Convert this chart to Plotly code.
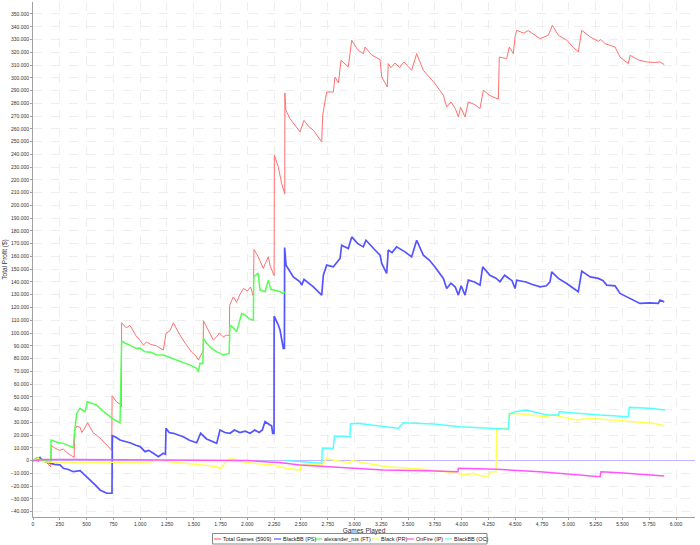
import plotly.graph_objects as go

# ---- data (games played, total profit in $) ----
total_games = [0, 30, 50, 70, 100, 130, 166, 170, 200, 250, 283, 320, 376, 384, 390, 410, 440, 455, 480, 510,
               560, 620, 680, 718, 735, 738, 745, 780, 818, 824, 827, 840, 870, 905, 960, 1000, 1030, 1060,
               1100, 1150, 1216, 1241, 1280, 1310, 1360, 1420, 1480, 1520, 1543, 1575, 1588, 1590, 1630, 1683,
               1714, 1739, 1775, 1807, 1832, 1835, 1869, 1900, 1930, 1963, 2000, 2030, 2056, 2062, 2100, 2130,
               2149, 2175, 2196, 2215, 2242, 2250, 2252, 2289, 2320, 2345, 2349, 2350, 2360, 2398, 2450, 2491,
               2529, 2570, 2616, 2650, 2694, 2703, 2740, 2802, 2818, 2850, 2874, 2942, 2974, 3030, 3082, 3098,
               3160, 3238, 3254, 3306, 3315, 3340, 3378, 3420, 3462, 3533, 3580, 3642, 3700, 3751, 3829, 3860,
               3900, 3940, 3969, 3990, 4031, 4062, 4120, 4171, 4202, 4258, 4342, 4351, 4420, 4444, 4482, 4498,
               4513, 4580, 4620, 4731, 4808, 4846, 4902, 4980, 5040, 5088, 5120, 5200, 5275, 5300, 5337, 5431,
               5477, 5555, 5571, 5650, 5726, 5800, 5850, 5890]
total_profit = [0, 1500, -1000, 2000, 500, -2000, -4800, 12000, 10000, 8000, 9000, 6000, 3000, 2500, 24000, 27000,
                26000, 22000, 25000, 29700, 22000, 18000, 13000, 9600, 8000, 50800, 50000, 46000, 44000, 42000,
                108000, 107000, 104000, 106000, 98000, 94000, 90500, 93000, 91000, 90000, 86600, 99700, 102000,
                108000, 100000, 92000, 85000, 82000, 78800, 84000, 86000, 109600, 103000, 94400, 97000, 100000,
                97000, 98400, 98000, 121800, 128300, 124000, 130000, 134900, 133000, 136000, 128900, 165500,
                160000, 155000, 150600, 156000, 159700, 152000, 145300, 145000, 239300, 230100, 217100, 209300,
                209000, 288100, 274500, 268000, 262000, 257600, 266700, 262000, 258900, 255000, 249700, 270600,
                288900, 288900, 300600, 296000, 313700, 308500, 329400, 322000, 318900, 324100, 318000, 314200,
                300600, 292800, 311100, 308000, 311600, 308000, 312400, 305900, 318900, 305900, 300000, 295500,
                286300, 277100, 281000, 276000, 269300, 277000, 269300, 281100, 279000, 275900, 290200, 286300,
                283200, 316300, 315000, 324100, 318900, 332000, 337200, 335000, 337000, 330700, 333300, 341100,
                333300, 329400, 324000, 320300, 337200, 332000, 328600, 330000, 326800, 324100, 316300, 311100,
                317600, 314000, 312400, 312000, 312400, 310300]

ps_games = [0, 40, 65, 80, 120, 159, 200, 252, 283, 330, 376, 439, 480, 532, 580, 625, 688, 737, 740, 770, 812,
            860, 905, 960, 1000, 1045, 1080, 1123, 1170, 1216, 1236, 1241, 1270, 1310, 1360, 1402, 1460, 1527,
            1564, 1620, 1714, 1745, 1790, 1838, 1880, 1930, 1980, 2025, 2070, 2110, 2140, 2165, 2227, 2236, 2249,
            2250, 2289, 2305, 2336, 2346, 2348, 2361, 2429, 2491, 2507, 2529, 2616, 2694, 2709, 2740, 2802, 2865,
            2880, 2942, 2974, 3030, 3082, 3107, 3180, 3238, 3254, 3300, 3315, 3350, 3393, 3471, 3533, 3580, 3642,
            3700, 3751, 3829, 3860, 3900, 3940, 3969, 3995, 4031, 4062, 4120, 4171, 4196, 4264, 4320, 4357, 4400,
            4470, 4498, 4513, 4600, 4660, 4731, 4790, 4824, 4840, 4902, 4980, 5040, 5088, 5120, 5200, 5275, 5320,
            5353, 5431, 5477, 5571, 5664, 5757, 5835, 5850, 5890]
ps_profit = [0, 1000, 2500, 0, -1000, -2100, -3000, -3400, -6000, -7000, -8700, -7900, -11000, -15200, -19000,
             -23000, -25600, -25600, 19500, 18500, 16100, 15000, 14000, 12000, 11000, 7000, 8000, 5700, 3100, 5700,
             5000, 25300, 22000, 21400, 20000, 18700, 16000, 14000, 21400, 17000, 13500, 24000, 22000, 21400, 24000,
             22000, 23000, 21400, 24000, 22000, 24000, 30500, 27100, 21400, 21400, 113200, 106200, 102300, 87900,
             88000, 167000, 153200, 144000, 140100, 137500, 142000, 136200, 129700, 145300, 153200, 151800, 158400,
             168800, 166200, 175300, 170000, 167500, 172700, 166000, 161000, 154500, 146700, 165000, 163000, 167500,
             163600, 159700, 172700, 161000, 157000, 151800, 142800, 134900, 139000, 136000, 129700, 137000, 129700,
             141400, 140000, 137500, 151800, 145300, 143000, 140100, 145300, 141000, 134900, 141400, 140000, 138000,
             136200, 137000, 140100, 147900, 142800, 138800, 135000, 132300, 148500, 144000, 142800, 141000, 137500,
             137000, 131000, 127100, 123200, 123600, 123200, 125800, 124400]

ft_games = [0, 34, 60, 96, 130, 159, 166, 168, 200, 240, 283, 320, 345, 376, 385, 390, 407, 438, 485, 507, 540,
            594, 650, 718, 760, 812, 827, 860, 905, 960, 1000, 1045, 1100, 1150, 1216, 1270, 1341, 1400, 1460, 1527,
            1543, 1558, 1585, 1590, 1620, 1667, 1720, 1776, 1830, 1838, 1870, 1900, 1947, 1980, 2020, 2056, 2060,
            2100, 2118, 2165, 2196, 2220, 2260, 2305, 2330, 2351]
ft_profit = [0, 2300, 1000, 500, -500, -800, -1000, 16100, 15000, 14000, 13500, 12000, 10900, 10100, 20000, 25000,
             37000, 41000, 38300, 46100, 45000, 43500, 39000, 34400, 32000, 29700, 93900, 92000, 90500, 88000, 88000,
             85300, 85000, 83000, 82700, 81000, 78800, 77000, 75000, 72300, 69600, 76200, 76000, 95800, 92000, 87900,
             85000, 82700, 84000, 106200, 104000, 100900, 115300, 114000, 111000, 110000, 144000, 147000, 133600,
             132300, 141400, 134000, 133500, 132300, 131000, 132000]

pr_games = [0, 50, 80, 120, 200, 400, 800, 1000, 1100, 1140, 1300, 1500, 1650, 1714, 1745, 1790, 1823, 1850, 1950,
            2100, 2242, 2367, 2491, 2500, 2700, 2740, 2802, 2958, 2974, 3114, 3300, 3518, 3735, 3953, 4047, 4109,
            4187, 4249, 4264, 4320, 4327, 4435, 4445, 4513, 4638, 4778, 4855, 5073, 5197, 5384, 5601, 5788, 5890]
pr_profit = [0, 1500, -500, -1000, -1200, -1300, -1500, -1200, -1000, 300, -1000, -2500, -4000, -4800, -6000, -2100,
             1000, 1800, -1000, -2500, -3400, -6000, -7400, -3000, -3400, 1800, 500, -2100, 0, -2100, -4800, -6000,
             -7400, -10000, -11300, -10000, -12100, -12100, -8700, -8700, 25300, 25300, 36500, 37000, 35700, 34400,
             35700, 31800, 33100, 31800, 30500, 29200, 27300]

ip_games = [0, 50, 100, 400, 800, 1200, 1600, 2000, 2200, 2300, 2491, 2802, 3268, 3673, 3965, 3969, 4327, 4731,
            5073, 5291, 5300, 5477, 5890]
ip_profit = [0, 500, 800, 800, 600, 500, 300, 0, -1000, -1500, -3400, -4800, -7400, -7900, -8700, -6000, -6800,
             -8700, -11300, -12600, -8700, -9500, -12100]

oc_games = [2350, 2491, 2694, 2700, 2802, 2812, 2958, 2962, 3020, 3238, 3409, 3455, 3735, 3984, 4327, 4435, 4445,
            4498, 4607, 4793, 4902, 4910, 5291, 5555, 5564, 5757, 5897]
oc_profit = [0, -900, -2100, 9600, 9600, 19300, 18700, 28700, 29200, 27100, 25300, 29700, 28700, 26500, 24700,
             24600, 36500, 38300, 39600, 35700, 35700, 38300, 35700, 34400, 41700, 41000, 39600]

series_names = ["Total Games (5909)", "BlackBB (PS)", "alexander_rus (FT)", "Black (PR)", "OnFire (IP)", "BlackBB (OC)"]
x_ticks = list(range(0, 6001, 250))
y_ticks = list(range(-40000, 350001, 10000))

# ---- styling ----
colors = ["#FF7070", "#5555FF", "#55FF55", "#FFFF55", "#FF55FF", "#55FFFF"]
widths = [1, 1.7, 1.5, 1.5, 1.5, 1.5]
FONT = "Liberation Sans"

# plot area in pixels
W, H = 700, 545
PL, PR, PT, PB = 33, 695, 2, 517


def px_x(px):
    return (px - PL) / (PR - PL)


def px_y(py):
    return (PB - py) / (PB - PT)


data = [(total_games, total_profit), (ps_games, ps_profit), (ft_games, ft_profit),
        (pr_games, pr_profit), (ip_games, ip_profit), (oc_games, oc_profit)]

fig = go.Figure()
for name, (gx, gy), c, w in zip(series_names, data, colors, widths):
    fig.add_trace(go.Scatter(x=gx, y=gy, mode="lines", name=name,
                             line=dict(color=c, width=w), showlegend=False))

# custom compact legend (boxed, below the axis title)
legend_line_x = [214, 274, 315, 372, 407, 445]
shapes = [dict(type="rect", xref="paper", yref="paper",
               x0=px_x(212.5), x1=px_x(487), y0=px_y(533.5), y1=px_y(544),
               line=dict(color="#888888", width=1), fillcolor="white", layer="above")]
annotations = []
LY = 539
for name, c, lx in zip(series_names, colors, legend_line_x):
    shapes.append(dict(type="line", xref="paper", yref="paper",
                       x0=px_x(lx), x1=px_x(lx + 7), y0=px_y(LY), y1=px_y(LY),
                       line=dict(color=c, width=1.2), layer="above"))
    annotations.append(dict(text=name, xref="paper", yref="paper", x=px_x(lx + 8), y=px_y(LY),
                            xanchor="left", yanchor="middle", showarrow=False, borderpad=0,
                            font=dict(family=FONT, size=5.5, color="#222222")))

fig.update_layout(
    width=W, height=H,
    margin=dict(l=PL, r=W - PR, t=PT, b=H - PB, autoexpand=False),
    paper_bgcolor="white", plot_bgcolor="white",
    separators=",.",
    font=dict(family=FONT, size=6, color="#333333"),
    showlegend=False,
    shapes=shapes, annotations=annotations,
)
fig.update_xaxes(range=[0, 6177], tickvals=x_ticks, tickformat=",d",
                 showgrid=True, gridcolor="#EEEEEE", griddash="dash", gridwidth=1,
                 showline=True, linecolor="#A0A0A0", linewidth=1,
                 ticks="outside", ticklen=2, tickcolor="#A0A0A0",
                 zeroline=False, automargin=False,
                 title=dict(text="Games Played", font=dict(family=FONT, size=6.5), standoff=0),
                 tickfont=dict(family=FONT, size=5))
fig.update_yaxes(range=[-44200, 359400], tickvals=y_ticks, tickformat=",d",
                 showgrid=True, gridcolor="#EEEEEE", griddash="dash", gridwidth=1,
                 showline=True, linecolor="#A0A0A0", linewidth=1,
                 ticks="outside", ticklen=2, tickcolor="#A0A0A0",
                 zeroline=True, zerolinecolor="#C4B4FF", zerolinewidth=1,
                 automargin=False,
                 title=dict(text="Total Profit ($)", font=dict(family=FONT, size=6.5), standoff=2),
                 tickfont=dict(family=FONT, size=5))

fig.write_html("out.html", config={"displayModeBar": False},
               post_script="document.body.style.margin='0px';document.body.style.overflow='hidden';")
